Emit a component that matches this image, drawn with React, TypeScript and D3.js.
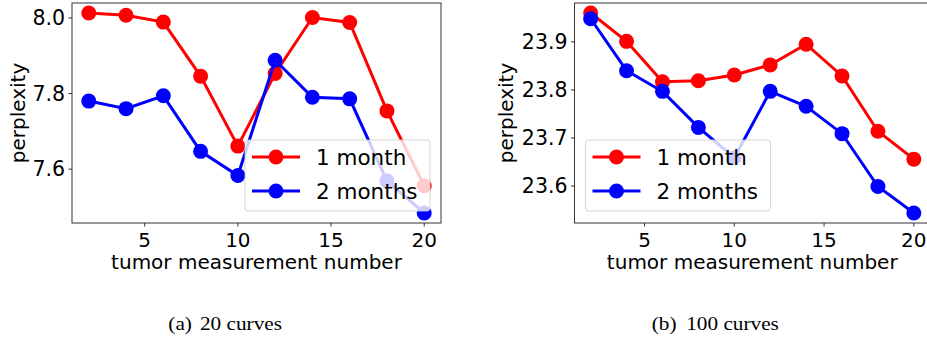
import React from "react";
import * as d3 from "d3";

// x positions (tumor measurement number)
const steps = [2, 4, 6, 8, 10, 12, 14, 16, 18, 20];

// (a) 20 curves
const curves20OneMonth = [8.013, 8.007, 7.989, 7.846, 7.661, 7.853, 8.001, 7.988, 7.754, 7.556];
const curves20TwoMonths = [7.780, 7.760, 7.794, 7.647, 7.583, 7.888, 7.790, 7.786, 7.569, 7.484];
const curves20Ticks = [7.6, 7.8, 8.0];

// (b) 100 curves
const curves100OneMonth = [23.960, 23.901, 23.817, 23.819, 23.831, 23.852, 23.895, 23.829, 23.714, 23.656];
const curves100TwoMonths = [23.948, 23.840, 23.797, 23.722, 23.659, 23.797, 23.766, 23.709, 23.599, 23.544];
const curves100Ticks = [23.6, 23.7, 23.8, 23.9];

const xTicks = [5, 10, 15, 20];
const seriesNames = ["1 month", "2 months"];
const seriesColors = ["#ff0000", "#0000ff"];

const FONT = "'DejaVu Sans', sans-serif";
const SERIF = "'Liberation Serif', 'Times New Roman', serif";

type PanelProps = {
    left: number;
    right: number;
    top: number;
    bottom: number;
    series: number[][];
    yTicks: number[];
    yLabelX: number;
    legendX: number;
    legendY: number;
};

function Panel({ left, right, top, bottom, series, yTicks, yLabelX, legendX, legendY }: PanelProps) {
    // matplotlib style 5% margins
    const allY = series.flat();
    const yMin = d3.min(allY)!, yMax = d3.max(allY)!;
    const yPad = (yMax - yMin) * 0.05;
    const x = d3.scaleLinear().domain([1.1, 20.9]).range([left, right]);
    const y = d3.scaleLinear().domain([yMin - yPad, yMax + yPad]).range([bottom, top]);

    const line = d3.line<number>()
        .x((_, i) => x(steps[i]))
        .y(d => y(d));

    const clipId = "clip" + Math.round(left);
    const legW = 185, legH = 71;

    return (
        <g>
            <defs>
                <clipPath id={clipId}>
                    <rect x={left} y={top} width={right - left} height={bottom - top} />
                </clipPath>
            </defs>

            <g clipPath={`url(#${clipId})`}>
                {series.map((s, k) => (
                    <g key={k}>
                        <path d={line(s) || ""} fill="none" stroke={seriesColors[k]} strokeWidth={3} />
                        {s.map((v, i) => (
                            <circle key={i} cx={x(steps[i])} cy={y(v)} r={7.5} fill={seriesColors[k]} />
                        ))}
                    </g>
                ))}

                {/* legend */}
                <rect x={legendX} y={legendY} width={legW} height={legH} rx={3}
                    fill="#ffffff" fillOpacity={0.8} stroke="#cccccc" strokeOpacity={0.8} strokeWidth={1} />
                {seriesNames.map((name, k) => {
                    const cy = legendY + 17 + k * 34;
                    return (
                        <g key={name}>
                            <line x1={legendX + 7} x2={legendX + 55} y1={cy} y2={cy} stroke={seriesColors[k]} strokeWidth={3} />
                            <circle cx={legendX + 31} cy={cy} r={7.5} fill={seriesColors[k]} />
                            <text x={legendX + 71} y={cy + 8} fontSize={21.5} fontFamily={FONT} fill="#000">{name}</text>
                        </g>
                    );
                })}
            </g>

            {/* frame */}
            <rect x={left} y={top} width={right - left} height={bottom - top} fill="none" stroke="#333" strokeWidth={1} />

            {/* x axis */}
            {xTicks.map(t => (
                <g key={t}>
                    <line x1={x(t)} x2={x(t)} y1={bottom} y2={bottom + 3.5} stroke="#333" />
                    <text x={x(t)} y={246.5} textAnchor="middle" fontSize={20} fontFamily={FONT} fill="#000">{t}</text>
                </g>
            ))}
            <text x={(left + right) / 2} y={269}
                textAnchor="middle" fontSize={20} fontFamily={FONT} fill="#000">tumor measurement number</text>

            {/* y axis */}
            {yTicks.map(t => (
                <g key={t}>
                    <line x1={left - 3.5} x2={left} y1={y(t)} y2={y(t)} stroke="#333" />
                    <text x={left - 7} y={y(t) + 7.3} textAnchor="end" fontSize={20.5} fontFamily={FONT} fill="#000">{d3.format(".1f")(t)}</text>
                </g>
            ))}
            <text transform={`translate(${yLabelX},${(top + bottom) / 2}) rotate(-90)`} textAnchor="middle"
                fontSize={20} fontFamily={FONT} fill="#000">perplexity</text>
        </g>
    );
}

function Caption({ x, label, text }: { x: number; label: string; text: string }) {
    // caption is stretched a little wider than plain Times in the reference
    return (
        <g transform={`translate(${x},330) scale(1.15,1)`}>
            <text x={0} y={0} fontSize={18.5} fontFamily={SERIF} fill="#000">{label}</text>
            <text x={text.length > 9 ? 30 : 27.5} y={0} fontSize={18.5} fontFamily={SERIF} fill="#000">{text}</text>
        </g>
    );
}

export default function App() {
    return (
        <svg width={927} height={339} style={{ position: "absolute", left: 0, top: 0, background: "#fff" }}>
            <Panel left={72} right={441} top={3} bottom={223}
                series={[curves20OneMonth, curves20TwoMonths]} yTicks={curves20Ticks}
                yLabelX={25} legendX={245} legendY={140} />
            <Panel left={574.5} right={930} top={3} bottom={223}
                series={[curves100OneMonth, curves100TwoMonths]} yTicks={curves100Ticks}
                yLabelX={513} legendX={585.5} legendY={140} />

            <Caption x={168.3} label="(a)" text="20 curves" />
            <Caption x={651.7} label="(b)" text="100 curves" />
        </svg>
    );
}
